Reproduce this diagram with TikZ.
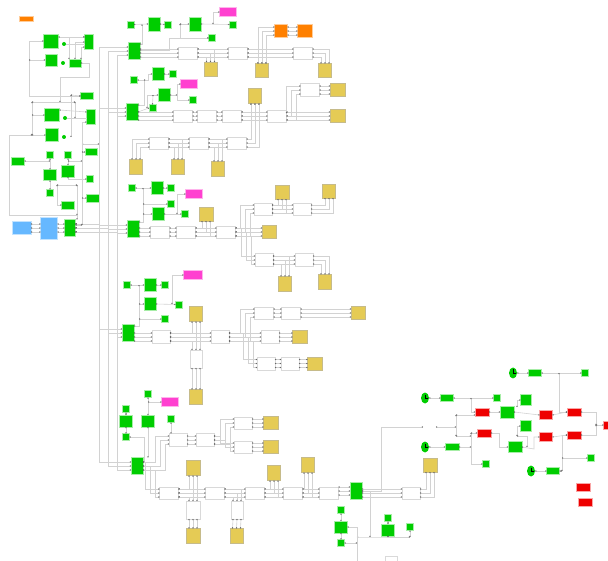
\documentclass[tikz,border=0pt]{standalone}
\usetikzlibrary{arrows.meta,shapes.geometric}
\definecolor{blkgreen}{RGB}{0,205,0}
\definecolor{blkyellow}{RGB}{229,203,85}
\definecolor{blkpink}{RGB}{255,64,208}
\definecolor{blkorange}{RGB}{255,128,0}
\definecolor{blkred}{RGB}{238,0,0}
\definecolor{blkblue}{RGB}{102,184,255}
\tikzset{
  sz/.style 2 args={minimum width=#1pt,minimum height=#2pt,inner sep=0pt,outer sep=0pt},
  gbox/.style={fill=blkgreen,draw=blkgreen!35,line width=.5pt},
  ybox/.style={fill=blkyellow,draw=blkyellow!70!black!60,line width=.5pt},
  wbox/.style={fill=white,draw=gray!30,line width=.8pt},
  pbox/.style={fill=blkpink,draw=blkpink!40,line width=.5pt},
  obox/.style={fill=blkorange,draw=blkorange!40,line width=.5pt},
  rbox/.style={fill=blkred,draw=blkred!35,line width=.5pt},
  bbox/.style={fill=blkblue,draw=blkblue!40,line width=.5pt},
  gdot/.style={circle,fill=blkgreen,minimum size=4pt,inner sep=0pt},
  clk/.style={ellipse,fill=blkgreen,minimum width=8pt,minimum height=11pt,inner sep=0pt},
  hand/.style={draw=black,line width=.8pt},
  plain/.style={draw=gray!35,line width=.6pt},
  wire/.style={plain,{Circle[length=1.2pt,color=black!60]}-{Circle[length=1.2pt,color=black!60]}},
}
\newcommand{\bus}[2]{\foreach \d in {-4,0,4}{\draw[wire] ([yshift=\d pt]#1.east |- #2.west) -- ([yshift=\d pt]#2.west);}}
\newcommand{\vbus}[2]{\foreach \d in {-4,0,4}{\draw[wire] ([xshift=\d pt]#1.south) -- ([xshift=\d pt]#2.north);}}
\newcommand{\tapd}[2]{\foreach \d in {-4,0,4}{\draw[wire] ([yshift=\d pt]#1) -| ([xshift=\d pt]#2);}}
\newcommand{\tapu}[2]{\foreach \d/\e in {-4/4,0/0,4/-4}{\draw[wire] ([yshift=\e pt]#1) -| ([xshift=\d pt]#2);}}
\newcommand{\wbend}[2]{\foreach \e/\s in {4/14,0/9,-4/4}{\draw[wire] ([yshift=\e pt]#1.east) -| ([xshift=-\s pt,yshift=\e pt]#2.west) -- ([yshift=\e pt]#2.west);}}
\begin{document}
\begin{tikzpicture}[x=1pt,y=-1pt]
  \useasboundingbox (0,0) rectangle (608,561);
  % left part
  \node[obox,sz={14}{5}] (ob0) at (26,19) {};
  \foreach \n/\x/\y/\w/\h in {lg1/51/41/15/14,lg2/89/42/9/15,lg3/51/60/12/12,lg4/75/63/12/8,lg5/87/96/13/7,
    lg6/52/115/15/13,lg7/91/117/9/15,lg8/52/135/13/13,lg9/91/152/12/7,lg10/18/161/13/8,lg11/50/155/7/7,
    lg12/68/155/7/7,lg13/50/175/13/11,lg14/68/171/13/12,lg15/90/179/7/7,lg16/50/193/7/7,lg17/68/205/13/8,
    lg18/93/198/13/8,src/70/228/11/17}
    \node[gbox,sz={\w}{\h}] (\n) at (\x,\y) {};
  \node[gdot] (ld1) at (64,44) {};
  \node[gdot] (ld2) at (63,63) {};
  \node[gdot] (ld3) at (65,118) {};
  \node[gdot] (ld4) at (64,137) {};
  \node[bbox,sz={19}{13}] (bl1) at (21.5,228) {};
  \node[bbox,sz={17}{22}] (bl2) at (49,228) {};
  % main blocks
  \foreach \n/\x/\y in {m1/134/51,m2/132/112,m3/133/229,m4/128/333,m5/137/466,m6/356/491}
    \node[gbox,sz={12}{17}] (\n) at (\x,\y) {};
  % small green blocks
  \foreach \n/\x/\y in {g1a/130.5/24.5,g1c/168/24.5,g1e/233/24.5,g1f/212/38,g2a/134/80,g2c/173/74,g2e/152.5/108,g2f/193/100,
    g3a/132/188,g3c/171/188,g3d/171/204,g3f/185/214,g4a/127/285,g4c/165/285,g4e/179/304.5,g4f/165/319,
    g5a/148/394,g5b/126/409,g5e/171/419,g5f/126/437,g6a/341/510,g6c/341/543,g6d/388/518,g6f/410/527,
    g7a/585/373,g7b/497/398,g7c/486/464,g7d/591/458}
    \node[gbox,sz={7}{7}] (\n) at (\x,\y) {};
  % larger green blocks
  \foreach \n/\x/\y/\w/\h in {g1b/154/24/12/14,g1d/195/24/12/14,g2b/158/74/12/13,g2d/164/95/12/13,g3b/157/188/12/13,g3e/158/214/12/13,
    g4b/150/285/12/13,g4d/150/304/12/13,g5c/126/421/13/12,g5d/148/421/13/12,g6b/341/527/13/12,g6e/388/530/13/12,
    g7e/535/373/13/7,g7f/447/398/13/7,g7g/452/447/14/7,g7h/553/471/13/7,g7i/526/400/11/11,g7j/526/426/11/11,
    g7k/507/412/14/12,g7l/515/447/14/11}
    \node[gbox,sz={\w}{\h}] (\n) at (\x,\y) {};
  % pink and orange
  \foreach \n/\x/\y/\w in {p1/228/12/17,p2/189/84/17,p3/194/194/17,p4/193/275/19,p5/170/402/17}
    \node[pbox,sz={\w}{9}] (\n) at (\x,\y) {};
  \node[obox,sz={13}{13}] (o1a) at (281,31) {};
  \node[obox,sz={15}{13}] (o1b) at (305,31) {};
  % white blocks
  \foreach \n/\x/\y/\w/\h in {w1a/188/53/19/12,w1b/238/53/19/12,w1c/303/53/19/12,
    w2a/183/116/19/12,w2b/207/116/19/12,w2c/232/116/19/12,w2d/277/116/19/12,w2e/310/90/19/13,
    w2f/159/143/19/12,w2g/199/143/19/12,w2h/237/143/19/12,
    w3a/160/232/19/12,w3b/186/232/19/12,w3c/226/232/19/12,w3d/263/209/18/12,w3e/302/209/18/12,w3f/264/260/18/13,w3g/304/260/18/13,
    w4a/161/337/18/13,w4b/220/337/18/13,w4c/196/359/12/18,w4d/264/313/19/12,w4e/291/313/19/12,w4f/270/337/18/13,w4g/266/363.5/18/13,w4h/290/363.5/18/13,
    w5a/178/440/18/13,w5b/205/440/18/13,w5c/243/423/18/12,w5d/243/447/18/12,w5e/169/493/19/12,w5f/215/493/19/12,w5g/255/493/19/12,w5h/293/493/19/12,w5i/329/493/19/12,
    w5j/193/510/14/18,w5k/237/510/12/18,w6a/411/493/18/12,w6b/391.5/562/12/12}
    \node[wbox,sz={\w}{\h}] (\n) at (\x,\y) {};
  % yellow blocks
  \foreach \n/\x/\y/\w/\h in {y1a/210.5/69/13/14,y1b/262/70.5/13/14,y1c/325/70.5/13/14,
    y2a/255/96/13/15,y2b/337.5/90/15/13,y2c/337.5/116/15/13,y2d/136/167/13/15,y2e/178/167/13/15,y2f/218/169/13/15,
    y3a/206/214/14/14,y3b/269/232/14/13,y3c/282/192/14/14,y3d/329/191/13/14,y3e/285/284/13/15,y3f/325/282/13/15,
    y4a/196/314/13/15,y4b/196/397/13/15,y4c/358/313/14/13,y4d/300/337/15/13,y4e/315/363.5/15/13,
    y5a/271/423/15/13,y5b/271/447/15/13,y5c/193/468/14/15,y5d/274/473/13/15,y5e/308/465/13/15,y5f/193/536/14/15,y5g/236.5/536/13/15,y6a/430/465/14/14}
    \node[ybox,sz={\w}{\h}] (\n) at (\x,\y) {};
  % red blocks and clocks
  \foreach \n/\x/\y/\w/\h in {r1/482/412/14/8,r2/546/415/13/9,r3/574/412/14/8,r4/484/433/14/8,r5/546/437/13/9,r6/574/435/14/8,r7/583/487/14/8,r8/585/502/14/8,r9/607/425/7/8}
    \node[rbox,sz={\w}{\h}] (\n) at (\x,\y) {};
  \foreach \n/\x/\y in {clk1/513/373,clk2/425/398,clk3/425/447,clk4/531/471}{
    \node[clk] (\n) at (\x,\y) {};
    \draw[hand] ([yshift=3.5pt]\n.center) -- (\n.center) -- ([xshift=3pt]\n.center);
  }
  % junction points
  \coordinate (tka) at (99,0);
  \coordinate (tkb) at (108,0);
  \coordinate (tkc) at (117,0);
  \coordinate (ja) at (29,0);
  \coordinate (jb) at (60,77);
  \coordinate (jc) at (89,77);
  \coordinate (jd) at (60,102);
  \coordinate (je) at (32,102);
  \coordinate (jf) at (32,135);
  \coordinate (jg) at (9.5,215);
  \coordinate (jh) at (77,215);
  \coordinate (ji) at (82,144);
  \coordinate (jj) at (82,161);
  \coordinate (jk) at (57,185);
  \coordinate (jl) at (77,185);
  \coordinate (jm) at (75,102);
  \coordinate (jn) at (71,95);
  \coordinate (jo) at (82,225);
  % trunk lines
  \foreach \m in {m1,m2,m3,m4,m5}
    \foreach \tk/\e in {tka/4,tkb/0,tkc/-4}
      \draw[wire] ([yshift=\e pt]src.east) -| ([yshift=\e pt]\tk |- \m.west) -- ([yshift=\e pt]\m.west);
  \draw[wire] (ji) -- (tka |- ji);
  % left part wires
  \draw[wire] (lg1.west) -- (ja |- lg1.west) |- (lg5.west);
  \draw[wire] (lg3.west) -- (ja |- lg3.west);
  \draw[wire] ([yshift=4pt]lg1.east) -- ([yshift=5pt]lg2.west);
  \draw[plain] (ld1.east) -- (lg2.west |- ld1.east);
  \draw[wire] ([yshift=5pt]lg2.west) -| ([xshift=-6pt]lg4.north);
  \draw[wire] (lg2.west) -| (lg4.north);
  \draw[wire] ([yshift=-5pt]lg2.west) -| ([xshift=6pt]lg4.north);
  \draw[wire] (lg4.east) -| (jc) -- (jb) -- (jd);
  \draw[wire] (je) -- (jm);
  \draw[wire] (lg5.west) -- (jn);
  \draw[wire] (je) -- (jf);
  \draw[wire] (lg6.west) -- (je |- lg6.west);
  \draw[wire] (lg8.west) -- (jf);
  \draw[wire] (jf) -| (jg) -- (jh) -- (src.north -| jh);
  \draw[wire] ([yshift=5pt]lg6.east) -- ([yshift=5pt]lg7.west);
  \draw[plain] (ld3.east) -- (lg7.west |- ld3.east);
  \draw[wire] (jn) -- (ld4.east -| jn);
  \draw[wire] (jm) -- (jm |- ld3.east);
  \draw[wire] ([yshift=-5pt]lg7.west) -| (jo);
  \draw[wire] (lg9.west) -- (lg9.west -| jo);
  \draw[wire] (lg18.west) -- (lg18.west -| jo);
  \draw[wire] (jo) -- (jo -| src.east);
  \draw[wire] (lg10.east) -- (lg10.east -| lg11.south);
  \draw[wire] (lg11.south) -- (lg13.north);
  \draw[wire] (lg13.south) -- (lg16.north);
  \draw[wire] (lg12.south) -- (lg14.north);
  \draw[wire] (lg12.south |- jj) -- (jj);
  \draw[wire] (lg14.south) |- (lg15.west);
  \draw[wire] (jk) -- (jl);
  \draw[wire] (jk) |- (lg17.west);
  \draw[wire] (jl) -- (jh);
  \bus{bl1}{bl2}
  \bus{bl2}{src}
  % group 1
  \draw[wire] (g1a.east) -- (g1b.west);
  \draw[wire] (g1b.east) -- (g1c.west);
  \draw[wire] (g1a.east -| 142,0) |- ([yshift=7pt]m1.east);
  \draw[wire] (g1d.east) -- (g1e.west);
  \draw[wire] (g1f.west) -| (g1d.west -| 180,0);
  \draw[wire] (180,24) -- (g1d.west);
  \draw[wire] (g1f.west) -| (169,50) -- ([yshift=1pt]m1.east);
  \draw[wire] (p1.west) -| (213,24);
  \bus{m1}{w1a}
  \bus{w1a}{w1b}
  \bus{w1b}{w1c}
  \tapd{w1a.east}{y1a.north}
  \tapd{w1b.east}{y1b.north}
  \tapd{w1c.east}{y1c.north}
  \foreach \d/\e in {-4/4,0/0,4/-4}
    \draw[wire] ([xshift=\d pt]y1b.north) |- ([yshift=\e pt]o1a.west);
  \bus{o1a}{o1b}
  % group 2
  \draw[wire] (g2a.east) -| (144,105) -- ([yshift=7pt]m2.east);
  \draw[wire] (144,80) -| (g2b.west -| 148,0) -- (g2b.west);
  \draw[wire] (g2b.east) -- (g2c.west);
  \draw[wire] (g2d.west) -- (147,95) -- (147,108);
  \draw[wire] (g2d.west -| 153,0) -- (g2e.north);
  \draw[wire] (g2e.west) -- ([yshift=-4pt]m2.east |- g2e.west);
  \draw[wire] (g2d.east) -- (177,95);
  \draw[wire] (p2.west) -| (177,100) -- (g2f.west);
  \bus{m2}{w2a}
  \bus{w2a}{w2b}
  \bus{w2b}{w2c}
  \bus{w2c}{w2d}
  \tapu{w2c.east}{y2a.south}
  \tapu{w2h.east}{y2a.south}
  \wbend{w2d}{w2e}
  \bus{w2e}{y2b}
  \bus{w2d}{y2c}
  \bus{w2f}{w2g}
  \bus{w2g}{w2h}
  \tapu{w2f.west}{y2d.north}
  \tapd{w2f.east}{y2e.north}
  \tapd{w2g.east}{y2f.north}
  % group 3
  \draw[wire] (g3a.east) -- (g3b.west);
  \draw[wire] (g3b.east) -- (g3c.west);
  \draw[wire] (143,188) |- ([yshift=7pt]m3.east);
  \draw[wire] (143,204) -- (g3d.west);
  \draw[wire] (143,214) -- (g3e.west);
  \draw[wire] (g3e.east) -- (g3f.west);
  \draw[wire] (p3.west) -| (177,214);
  \bus{m3}{w3a}
  \bus{w3a}{w3b}
  \bus{w3b}{w3c}
  \tapu{w3b.east}{y3a.south}
  \bus{w3c}{y3b}
  \wbend{w3c}{w3d}
  \wbend{w3c}{w3f}
  \bus{w3d}{w3e}
  \bus{w3f}{w3g}
  \tapu{w3d.east}{y3c.south}
  \tapu{w3e.east}{y3d.south}
  \tapd{w3f.east}{y3e.north}
  \tapd{w3g.east}{y3f.north}
  % group 4
  \draw[wire] (g4a.east) -- (g4b.west);
  \draw[wire] (g4b.east) -- (g4c.west);
  \draw[wire] (139,285) |- ([yshift=7pt]m4.east);
  \draw[wire] (139,304) -- (g4d.west);
  \draw[wire] (139,319) -- (g4f.west);
  \draw[wire] (g4d.east) -- (g4e.west);
  \draw[wire] (p4.west) -| (172,304);
  \bus{m4}{w4a}
  \bus{w4a}{w4b}
  \tapu{w4a.east}{y4a.south}
  \tapd{w4a.east}{w4c.north}
  \vbus{w4c}{y4b}
  \bus{w4b}{w4f}
  \wbend{w4b}{w4d}
  \wbend{w4b}{w4g}
  \bus{w4d}{w4e}
  \bus{w4e}{y4c}
  \bus{w4f}{y4d}
  \bus{w4g}{w4h}
  \bus{w4h}{y4e}
  % group 5
  \draw[wire] (g5a.south) -- (g5d.north);
  \draw[wire] (p5.west) -- (g5a.south |- p5.west);
  \draw[wire] (g5b.south) -- (g5c.north);
  \draw[wire] (g5c.south) -- (g5f.north);
  \draw[wire] (g5d.south) -- (g5d.south |- m5.north);
  \draw[wire] (g5f.east) -| (144,462) -- ([yshift=4pt]m5.east);
  \draw[wire] (g5e.south) -- (w5a.north -| g5e.south);
  \wbend{m5}{w5a}
  \wbend{m5}{w5e}
  \bus{w5a}{w5b}
  \wbend{w5b}{w5c}
  \wbend{w5b}{w5d}
  \bus{w5c}{y5a}
  \bus{w5d}{y5b}
  \bus{w5e}{w5f}
  \bus{w5f}{w5g}
  \bus{w5g}{w5h}
  \bus{w5h}{w5i}
  \bus{w5i}{m6}
  \tapu{w5e.east}{y5c.south}
  \tapd{w5e.east}{w5j.north}
  \vbus{w5j}{y5f}
  \tapd{w5f.east}{w5k.north}
  \vbus{w5k}{y5g}
  \tapu{w5g.east}{y5d.south}
  \tapu{w5h.east}{y5e.south}
  % group 6
  \bus{m6}{w6a}
  \tapu{w6a.east}{y6a.south}
  \coordinate (ka) at (381,427);
  \coordinate (kb) at (423,427);
  \coordinate (kc) at (436,427);
  \coordinate (kd) at (456,427);
  \coordinate (ke) at (370,537);
  \coordinate (kf) at (357,537);
  \draw[wire] (m6.east) -| (ka) -- (kb);
  \draw[wire] (m6.east) -| (ke);
  \draw[wire] (kf) -- (ke) -- (ke -| g6f.south);
  \draw[wire] (g6a.south) -- (g6b.north);
  \draw[wire] (g6b.south) -- (g6c.north);
  \draw[wire] (g6b.east) -| (kf |- w6b.west) -- (w6b.west);
  \draw[wire] (g6c.east) -- (g6c.east -| kf);
  \draw[wire] (g6d.south) -- (g6e.north);
  \draw[wire] (g6e.south) -- (g6e.south |- ke);
  \draw[wire] (g6f.south) -- (g6f.south |- ke);
  % right part
  \coordinate (na) at (471,398);
  \coordinate (nb) at (456,415);
  \coordinate (nc) at (456,436);
  \coordinate (nd) at (471,447);
  \coordinate (ne) at (499,447);
  \coordinate (nf) at (517,407);
  \coordinate (ng) at (517,436);
  \coordinate (nh) at (527,436);
  \coordinate (ni) at (534,449);
  \coordinate (nj) at (559,373);
  \coordinate (nk) at (562,471);
  \coordinate (nl) at (596,425);
  \draw[wire] (clk1.east) -- (g7e.west);
  \draw[wire] (g7e.east) -- (g7a.west);
  \draw[wire] (nj) |- (r3.west);
  \draw[wire] (clk2.east) -- (g7f.west);
  \draw[wire] (g7f.east) -- (g7b.west);
  \draw[wire] (na) |- (r1.west);
  \draw[wire] (r1.east) -- (g7k.west);
  \draw[wire] (g7k.east) -- (r2.west);
  \draw[wire] (r2.east) -- (r3.west);
  \draw[wire] (nf) |- (g7i.west);
  \draw[wire] (ng) |- (g7j.west);
  \draw[wire] (ng) -- (nh) -- (nh |- g7l.east);
  \draw[wire] (r4.east) -| (ne) -- (g7l.west);
  \draw[wire] (g7l.east) -- (ni) |- (r5.west);
  \draw[wire] (r5.east) -- (r6.west);
  \draw[wire] (kc) -- (kd);
  \draw[wire] (nb) -- (nc);
  \draw[wire] (nb) -- (nb -| r1.west);
  \draw[wire] (nc) -- (nc -| nd);
  \draw[wire] (nd |- r4.west) -- (r4.west);
  \draw[wire] (nd |- r4.west) -- (nd |- g7c.west) -- (g7c.west);
  \draw[wire] (clk3.east) -- (g7g.west);
  \draw[wire] (g7g.east) -- (nd);
  \draw[wire] (clk4.east) -- (g7h.west);
  \draw[wire] (g7h.east) -- (nk);
  \draw[wire] (nk) |- (r6.west);
  \draw[wire] (nk |- g7d.west) -- (g7d.west);
  \draw[wire] (r3.east) -| (nl);
  \draw[wire] (r6.east) -| (nl);
  \draw[wire] (nl) -- (r9.west);
\end{tikzpicture}
\end{document}
